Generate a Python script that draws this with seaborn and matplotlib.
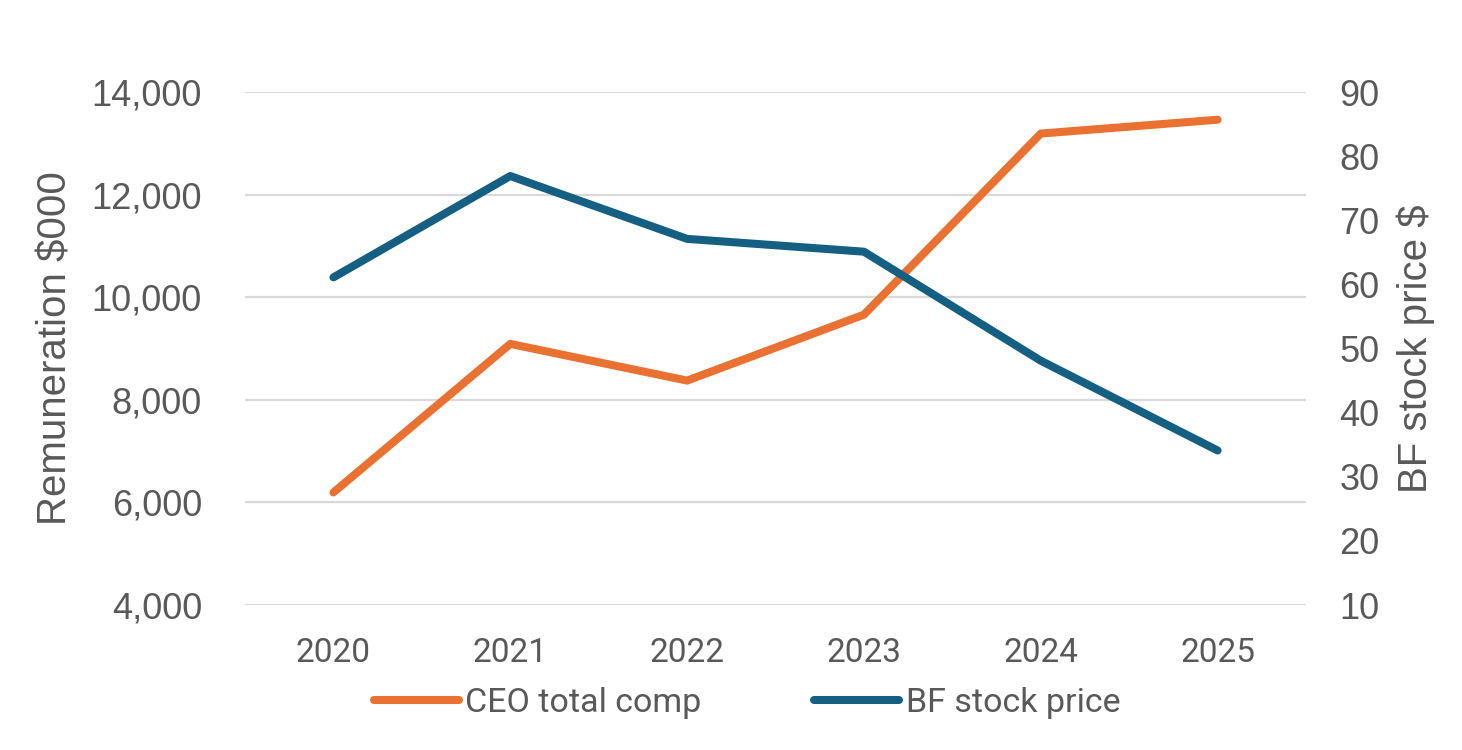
import pandas as pd
import matplotlib
matplotlib.use("Agg")
import matplotlib.pyplot as plt
import seaborn as sns

# Data
years = ["2020", "2021", "2022", "2023", "2024", "2025"]
ceo_comp = [6195, 9090, 8375, 9660, 13190, 13460]      # $000
stock_price = [61.1, 76.9, 67.1, 65.1, 48.1, 34.1]     # $

left_ticks = [4000, 6000, 8000, 10000, 12000, 14000]
right_ticks = [10, 20, 30, 40, 50, 60, 70, 80, 90]

orange = "#E97132"
blue = "#156082"
grey_text = "#595959"
grid_col = "#D9D9D9"

df = pd.DataFrame({"Year": years, "CEO total comp": ceo_comp, "BF stock price": stock_price})

sns.set_theme(style="white")
plt.rcParams["font.family"] = ["Liberation Sans", "DejaVu Sans"]

fig = plt.figure(figsize=(14.62, 7.5), dpi=100)
ax = fig.add_axes([0.1676, 0.1933, 0.7257, 0.684])
ax2 = ax.twinx()

line_kw = dict(linewidth=5.8, solid_capstyle="round", solid_joinstyle="round")
sns.lineplot(data=df, x="Year", y="CEO total comp", ax=ax, color=orange, zorder=3, **line_kw)
sns.lineplot(data=df, x="Year", y="BF stock price", ax=ax2, color=blue, zorder=3, **line_kw)

ax.set_xlim(-0.5, len(years) - 0.5)
ax.set_ylim(4000, 14000)
ax2.set_ylim(10, 90)
ax.set_yticks(left_ticks)
ax.set_yticklabels([f"{v:,}" for v in left_ticks])
ax2.set_yticks(right_ticks)

# gridlines follow the left axis
for v in left_ticks:
    ax.axhline(v, color=grid_col, linewidth=1.6, zorder=0)
ax.grid(False)
ax2.grid(False)

for a in (ax, ax2):
    for s in a.spines.values():
        s.set_visible(False)
    a.tick_params(length=0, colors=grey_text, labelsize=26)

ax.tick_params(axis="y", pad=31)
ax2.tick_params(axis="y", pad=24)
ax.tick_params(axis="x", pad=23)
for lbl in ax.get_xticklabels():
    lbl.set_family(["Roboto", "DejaVu Sans"])
    lbl.set_fontsize(24)

ax.set_xlabel("")
ax.set_ylabel("Remuneration $000", fontsize=29, color=grey_text, labelpad=12)
ax2.set_ylabel("BF stock price $", fontsize=29, color=grey_text, labelpad=12)

ax2.set_zorder(ax.get_zorder() + 1)
ax2.patch.set_visible(False)

handles = [ax.get_lines()[0], ax2.get_lines()[0]]
leg = fig.legend(handles, ["CEO total comp", "BF stock price"], loc="center",
                 bbox_to_anchor=(0.511, 0.0627), ncol=2, frameon=False,
                 handlelength=2.5, handletextpad=0.2, columnspacing=3.3,
                 prop={"family": ["Roboto", "DejaVu Sans"], "size": 24.5})
for t in leg.get_texts():
    t.set_color(grey_text)

fig.savefig("out.png", dpi=100, facecolor="white")
